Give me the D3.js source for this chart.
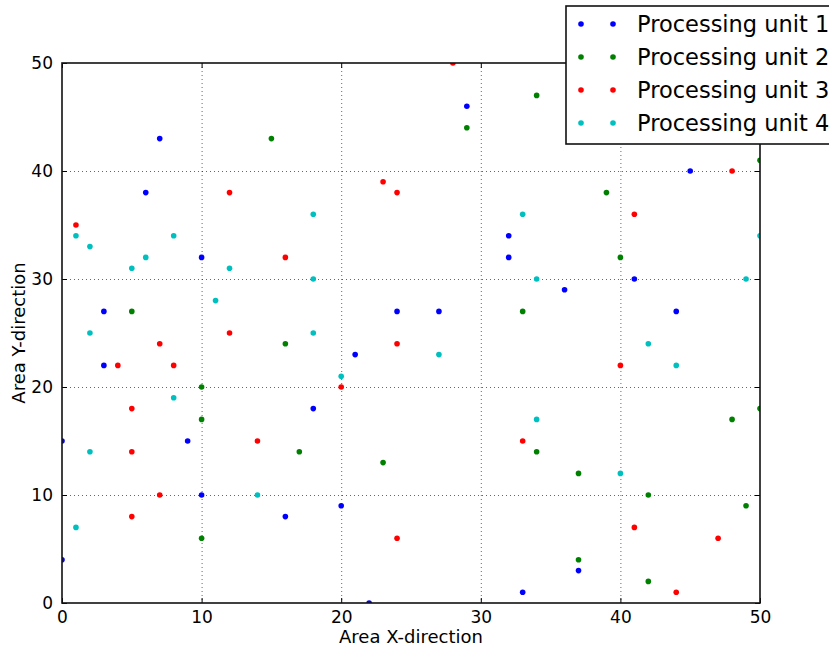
<!DOCTYPE html>
<html>
<head>
<meta charset="utf-8">
<script src="https://cdn.jsdelivr.net/npm/d3@7"></script>
<style>
  body { margin: 0; background: #ffffff; }
  svg { display: block; font-family: "DejaVu Sans", sans-serif; }
</style>
</head>
<body>
<svg id="chart" width="829" height="652"></svg>
<script>
// points, [x, y] per processing unit
var unit1 = [[7,43],[6,38],[10,32],[3,27],[29,46],[32,34],[32,32],[36,29],[24,27],[27,27],
    [45,40],[41,30],[44,27],[3,22],[0,15],[0,4],[9,15],[10,10],[18,18],[16,8],
    [21,23],[20,9],[22,0],[33,1],[37,3]];
var unit2 = [[15,43],[5,27],[34,47],[29,44],[33,27],[39,38],[50,41],[40,32],[16,24],[10,20],
    [10,17],[17,14],[10,6],[23,13],[34,14],[37,12],[37,4],[50,18],[48,17],[42,10],
    [49,9],[42,2]];
var unit3 = [[12,38],[1,35],[16,32],[28,50],[23,39],[24,38],[48,40],[41,36],[12,25],[7,24],
    [4,22],[8,22],[5,18],[5,14],[14,15],[7,10],[5,8],[24,24],[20,20],[33,15],
    [24,6],[40,22],[41,7],[47,6],[44,1]];
var unit4 = [[18,36],[1,34],[2,33],[8,34],[6,32],[5,31],[12,31],[18,30],[11,28],[33,36],
    [34,30],[50,34],[49,30],[2,25],[18,25],[8,19],[2,14],[14,10],[1,7],[20,21],
    [27,23],[34,17],[42,24],[44,22],[40,12]];

var seriesNames = ["Processing unit 1", "Processing unit 2", "Processing unit 3", "Processing unit 4"];
var seriesColors = ["#0000ff", "#008000", "#ff0000", "#00bfbf"];
var xTicks = [0, 10, 20, 30, 40, 50];
var yTicks = [0, 10, 20, 30, 40, 50];

var PLOT = { left: 62, top: 63, right: 760, bottom: 603 };

var svg = d3.select("#chart");

var x = d3.scaleLinear().domain([0, 50]).range([PLOT.left, PLOT.right]);
var y = d3.scaleLinear().domain([0, 50]).range([PLOT.bottom, PLOT.top]);

svg.append("defs").append("clipPath")
    .attr("id", "plotclip")
    .append("rect")
    .attr("x", PLOT.left)
    .attr("y", PLOT.top)
    .attr("width", PLOT.right - PLOT.left)
    .attr("height", PLOT.bottom - PLOT.top);

// dotted grid
var grid = svg.append("g").attr("class", "grid");
grid.selectAll("line.gx").data(xTicks.slice(1, -1)).enter().append("line")
    .attr("x1", function (d) { return x(d) + 0.5; })
    .attr("x2", function (d) { return x(d) + 0.5; })
    .attr("y1", PLOT.top)
    .attr("y2", PLOT.bottom)
    .attr("stroke", "#000")
    .attr("stroke-width", "0.6")
    .attr("stroke-dasharray", "1,3");
grid.selectAll("line.gy").data(yTicks.slice(1, -1)).enter().append("line")
    .attr("y1", function (d) { return y(d) + 0.5; })
    .attr("y2", function (d) { return y(d) + 0.5; })
    .attr("x1", PLOT.left)
    .attr("x2", PLOT.right)
    .attr("stroke", "#000")
    .attr("stroke-width", "0.6")
    .attr("stroke-dasharray", "1,3");

// points
var allSeries = [unit1, unit2, unit3, unit4];
var gPoints = svg.append("g").attr("clip-path", "url(#plotclip)");
allSeries.forEach(function (pts, i) {
    gPoints.selectAll("circle.s" + i).data(pts).enter().append("circle")
        .attr("class", "s" + i)
        .attr("cx", function (d) { return x(d[0]); })
        .attr("cy", function (d) { return y(d[1]); })
        .attr("r", "2.8")
        .attr("fill", seriesColors[i]);
});

// axes with inward ticks on all four sides
var axisBottom = d3.axisBottom(x).tickValues(xTicks).tickSizeInner(-5).tickSizeOuter(0).tickPadding(8);
var axisTop = d3.axisTop(x).tickValues(xTicks).tickSizeInner(-5).tickSizeOuter(0).tickFormat("");
var axisLeft = d3.axisLeft(y).tickValues(yTicks).tickSizeInner(-5).tickSizeOuter(0).tickPadding(9);
var axisRight = d3.axisRight(y).tickValues(yTicks).tickSizeInner(-5).tickSizeOuter(0).tickFormat("");

function styleAxis(g) {
    g.select(".domain").remove();
    g.selectAll(".tick line").attr("stroke", "#000");
    g.selectAll(".tick text").attr("fill", "#000").attr("font-size", "17px").attr("font-family", "DejaVu Sans");
}

svg.append("g").attr("transform", "translate(0," + PLOT.bottom + ")").call(axisBottom).call(styleAxis);
svg.append("g").attr("transform", "translate(0," + PLOT.top + ")").call(axisTop).call(styleAxis);
svg.append("g").attr("transform", "translate(" + PLOT.left + ",0)").call(axisLeft).call(styleAxis);
svg.append("g").attr("transform", "translate(" + PLOT.right + ",0)").call(axisRight).call(styleAxis);

// frame
svg.append("rect")
    .attr("x", PLOT.left)
    .attr("y", PLOT.top)
    .attr("width", PLOT.right - PLOT.left)
    .attr("height", PLOT.bottom - PLOT.top)
    .attr("fill", "none")
    .attr("stroke", "#111")
    .attr("stroke-width", "1.6");

// axis titles
svg.append("text")
    .attr("x", (PLOT.left + PLOT.right) / 2)
    .attr("y", "643")
    .attr("text-anchor", "middle")
    .attr("font-size", "18px")
    .attr("fill", "#000")
    .text("Area X-direction");

svg.append("text")
    .attr("transform", "translate(25," + ((PLOT.top + PLOT.bottom) / 2) + ") rotate(-90)")
    .attr("text-anchor", "middle")
    .attr("font-size", "18px")
    .attr("fill", "#000")
    .text("Area Y-direction");

// legend, hanging off the right edge
var gLegend = svg.append("g").attr("transform", "translate(566,6)");
gLegend.append("rect")
    .attr("x", "0")
    .attr("y", "0")
    .attr("width", "280")
    .attr("height", "138")
    .attr("fill", "#fff")
    .attr("stroke", "#111")
    .attr("stroke-width", "1.6");

var rows = gLegend.selectAll("g.row").data(seriesNames).enter().append("g")
    .attr("class", "row")
    .attr("transform", function (d, i) { return "translate(0," + (18 + i * 33) + ")"; });
rows.append("circle").attr("cx", "15").attr("cy", "0").attr("r", "2.8")
    .attr("fill", function (d, i) { return seriesColors[i]; });
rows.append("circle").attr("cx", "47").attr("cy", "0").attr("r", "2.8")
    .attr("fill", function (d, i) { return seriesColors[i]; });
rows.append("text")
    .attr("x", "71")
    .attr("y", "0")
    .attr("dominant-baseline", "central")
    .attr("font-size", "22.5px")
    .attr("fill", "#000")
    .text(function (d) { return d; });
</script>
</body>
</html>
